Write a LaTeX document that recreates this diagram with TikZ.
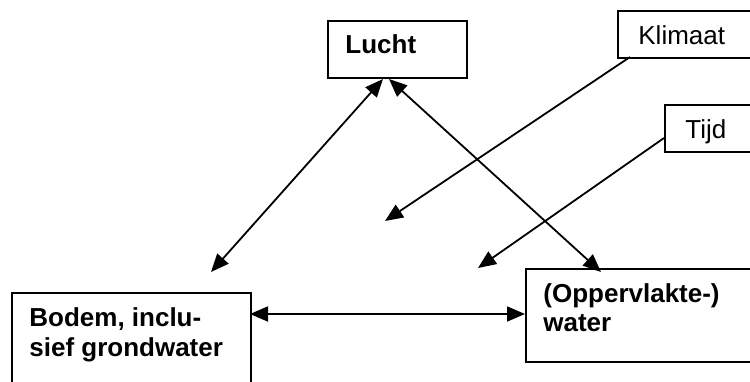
\documentclass[tikz,border=0pt]{standalone}
\usepackage{fontspec}
\setmainfont{Liberation Sans}
\usetikzlibrary{arrows.meta}
\begin{document}
\begin{tikzpicture}[x=0.5pt,y=-0.5pt,
  box/.style={draw,line width=0.9pt,rectangle,anchor=north west,inner sep=0pt},
  lbl/.style={anchor=base west,inner sep=0pt,font=\fontsize{13}{15}\selectfont},
  blbl/.style={lbl,font=\fontsize{13}{15}\selectfont\bfseries,align=left},
  conn/.style={line width=0.9pt,-{Triangle[length=9pt,width=7.5pt]}},
  bconn/.style={line width=0.9pt,{Triangle[length=9pt,width=7.5pt]}-{Triangle[length=9pt,width=7.5pt]}}]
\useasboundingbox (0,0) rectangle (750,381);
\clip (0,0) rectangle (750,381);
% boxes
\node[box,minimum width=69.5pt,minimum height=28.5pt] (lucht) at (327,20) {};
\node[box,minimum width=75pt,minimum height=23.5pt] (klimaat) at (617,10) {};
\node[box,minimum width=50pt,minimum height=23.5pt] (tijd) at (664,104) {};
\node[box,minimum width=119.5pt,minimum height=60pt] (bodem) at (11,292) {};
\node[box,minimum width=120pt,minimum height=46.5pt] (water) at (525,268) {};
% texts
\node[blbl] (tlucht) at (345,53) {Lucht};
\node[lbl] (tklimaat) at (638,44) {Klimaat};
\node[lbl] (ttijd) at (685,138) {Tijd};
\node[blbl] (tbodem1) at (29,326) {Bodem, inclu-};
\node[blbl] (tbodem2) at (29,356) {sief grondwater};
\node[blbl] (twater1) at (543,302) {(Oppervlakte-)};
\node[blbl] (twater2) at (543,331) {water};
% connector end points
\coordinate (lb1) at (383,79);
\coordinate (lw1) at (389,79);
\coordinate (bt) at (211,272);
\coordinate (wt) at (601,272);
\coordinate (br) at (250,314);
\coordinate (wl) at (525,314);
\coordinate (ks) at (630,57);
\coordinate (ke) at (385,221);
\coordinate (ts) at (664,138);
\coordinate (te) at (478,268);
% connectors
\draw[bconn] (lb1) -- (bt);
\draw[bconn] (lw1) -- (wt);
\draw[bconn] (br) -- (wl);
\draw[conn] (ks) -- (ke);
\draw[conn] (ts) -- (te);
\end{tikzpicture}
\end{document}
